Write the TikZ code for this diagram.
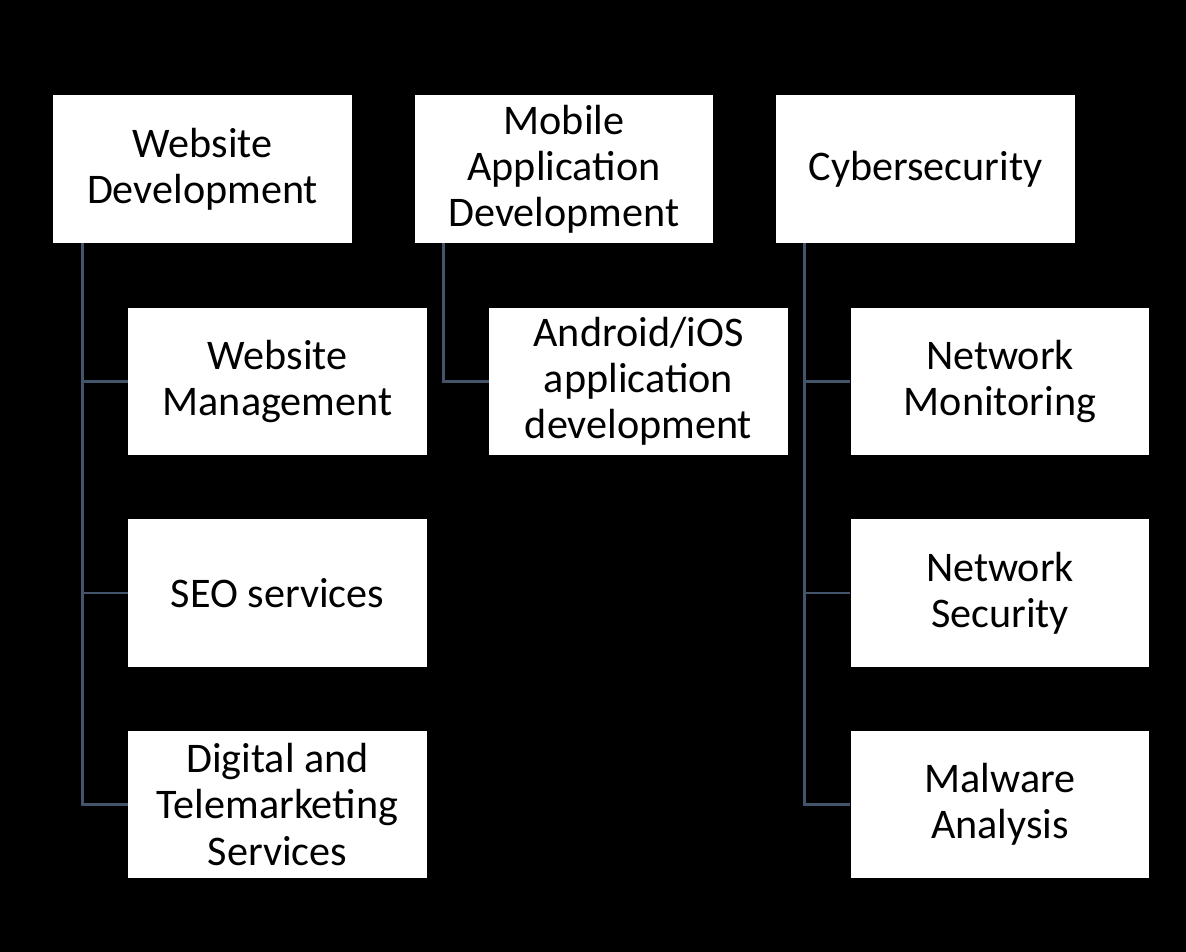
\documentclass[tikz,border=0pt]{standalone}
\usepackage{fontspec}
\setmainfont{Carlito}
\usepackage{tikz}
\usetikzlibrary{calc}
\definecolor{linkgray}{HTML}{44546A}

\begin{document}
\begin{tikzpicture}[x=0.02cm, y=-0.02cm,
    box/.style={fill=white, minimum width=5.98cm, minimum height=2.96cm,
        align=center, inner sep=0pt,
        font=\fontsize{24}{26.3}\selectfont},
    link/.style={draw=linkgray, line width=1.5pt}]
    %background
    \fill[black] (0,0) rectangle (1186,952);
    \useasboundingbox (0,0) rectangle (1186,952);
    %top row
    \node[box] (web) at (202.5,169) {Website\\Development};
    \node[box] (mob) at (564,169) {Mobile\\Application\\Development};
    \node[box] (cyb) at (925.5,169) {Cybersecurity};
    %website children
    \node[box] (wman) at (277.5,381.5) {Website\\Management};
    \node[box] (seo) at (277.5,593) {SEO services};
    \node[box] (dig) at (277.5,804.5) {Digital and\\Telemarketing\\Services};
    %mobile child
    \node[box] (andr) at (638.5,381.5) {Android/iOS\\application\\development};
    %cyber children
    \node[box] (nmon) at (1000,381.5) {Network\\Monitoring};
    \node[box] (nsec) at (1000,593) {Network\\Security};
    \node[box] (malw) at (1000,804.5) {Malware\\Analysis};
    %connectors
    \draw[link] ($(web.south west)+(30,0)$) |- (wman.west);
    \draw[link] ($(web.south west)+(30,0)$) |- (seo.west);
    \draw[link] ($(web.south west)+(30,0)$) |- (dig.west);
    \draw[link] ($(mob.south west)+(29,0)$) |- (andr.west);
    \draw[link] ($(cyb.south west)+(29,0)$) |- (nmon.west);
    \draw[link] ($(cyb.south west)+(29,0)$) |- (nsec.west);
    \draw[link] ($(cyb.south west)+(29,0)$) |- (malw.west);
\end{tikzpicture}
\end{document}
